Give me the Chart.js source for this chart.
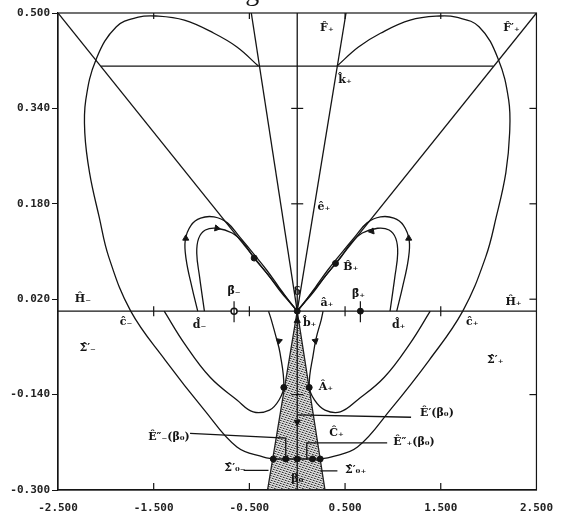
<!DOCTYPE html>
<html>
<head>
<meta charset="utf-8">
<script src="https://cdn.jsdelivr.net/npm/chart.js@4.4.0/dist/chart.umd.min.js"></script>
<style>
  html, body { margin: 0; padding: 0; background: #fff; }
  #wrap { width: 565px; height: 518px; }
</style>
</head>
<body>
<div id="wrap"><canvas id="phase" width="565" height="518"></canvas></div>
<script>
// --- tick values ---
const xTicks = [-2.5, -1.5, -0.5, 0.5, 1.5, 2.5];
const yTicks = [0.5, 0.34, 0.18, 0.02, -0.14, -0.3];

// --- straight lines ---
const axisH = [[-2.5, 0], [2.5, 0]];
const axisV = [[0, 0.5], [0, -0.3]];
const diagLeft = [[-2.5, 0.5], [0, 0]];
const diagRight = [[2.5, 0.5], [0, 0]];
const fanLeft = [[-0.48, 0.5], [0, 0]];
const fanRight = [[0.51, 0.5], [0, 0]];
const kLine = [[-2.05, 0.411], [2.05, 0.411]];

// --- big outer curves (from k-hat down to the wedge) ---
const outerLeft = [[-0.406, 0.411], [-0.63, 0.443], [-0.87, 0.466], [-1.18, 0.488], [-1.48, 0.495], [-1.66, 0.493],
  [-1.89, 0.477], [-2.10, 0.423], [-2.21, 0.354], [-2.22, 0.299], [-2.17, 0.232], [-2.07, 0.158], [-1.97, 0.091],
  [-1.74, 0.0], [-1.38, -0.082], [-0.97, -0.166], [-0.63, -0.228], [-0.35, -0.245], [-0.25, -0.248]];
const outerRight = [[0.416, 0.411], [0.64, 0.443], [0.87, 0.466], [1.18, 0.488], [1.49, 0.495], [1.66, 0.493],
  [1.90, 0.477], [2.10, 0.423], [2.21, 0.354], [2.22, 0.299], [2.18, 0.232], [2.08, 0.158], [1.97, 0.091],
  [1.73, 0.0], [1.38, -0.082], [0.97, -0.166], [0.63, -0.228], [0.35, -0.245], [0.24, -0.248]];

// --- E' curves through A-hat ---
const eLeft = [[-1.39, 0.0], [-1.18, -0.054], [-0.91, -0.111], [-0.63, -0.149], [-0.46, -0.169], [-0.29, -0.166],
  [-0.19, -0.149], [-0.14, -0.126], [-0.18, -0.070], [-0.22, -0.044], [-0.27, -0.015], [-0.30, 0.0]];
const eRight = [[1.39, 0.0], [1.18, -0.054], [0.91, -0.111], [0.63, -0.149], [0.45, -0.169], [0.29, -0.166],
  [0.18, -0.149], [0.125, -0.126], [0.17, -0.070], [0.20, -0.044], [0.25, -0.015], [0.27, 0.0]];

// --- small loops above the axis ---
const loopOuterLeft = [[-1.04, 0.0], [-1.10, 0.040], [-1.16, 0.086], [-1.17, 0.119], [-1.11, 0.144], [-1.01, 0.156],
  [-0.87, 0.158], [-0.73, 0.148], [-0.60, 0.124], [-0.46, 0.097], [-0.32, 0.069], [-0.19, 0.040], [-0.09, 0.018], [0, 0]];
const loopInnerLeft = [[-0.97, 0.0], [-1.02, 0.057], [-1.05, 0.097], [-1.03, 0.122], [-0.96, 0.136], [-0.84, 0.139],
  [-0.68, 0.131], [-0.56, 0.114], [-0.45, 0.089], [-0.30, 0.060], [-0.17, 0.032], [-0.07, 0.013], [0, 0]];
const loopOuterRight = [[1.04, 0.0], [1.10, 0.040], [1.16, 0.086], [1.17, 0.119], [1.11, 0.144], [1.01, 0.156],
  [0.87, 0.158], [0.73, 0.148], [0.60, 0.124], [0.46, 0.097], [0.32, 0.069], [0.19, 0.040], [0.09, 0.018], [0, 0]];
const loopInnerRight = [[0.97, 0.0], [1.02, 0.057], [1.05, 0.097], [1.03, 0.122], [0.96, 0.136], [0.84, 0.139],
  [0.68, 0.131], [0.56, 0.114], [0.45, 0.089], [0.30, 0.060], [0.17, 0.032], [0.07, 0.013], [0, 0]];

// --- leader lines and small segments near the wedge ---
const leaderE1 = [[0, -0.174], [1.19, -0.178]];
const leaderE2Left = [[-1.12, -0.205], [-0.12, -0.213], [-0.12, -0.248]];
const leaderE2Right = [[0.94, -0.221], [0.10, -0.221], [0.10, -0.248]];
const sigmaLeft = [[-0.56, -0.267], [-0.30, -0.267]];
const sigmaRight = [[0.24, -0.268], [0.42, -0.268]];
const dotRow = [[-0.25, -0.248], [0.24, -0.248]];

// --- wedge ---
const wedge = [[0, 0], [-0.31, -0.3], [0.29, -0.3], [0, 0]];

// --- marked points ---
const dotsFilled = [[0, 0], [0.66, 0], [-0.45, 0.089], [0.40, 0.080], [-0.14, -0.128], [0.125, -0.128],
  [-0.25, -0.248], [-0.12, -0.248], [0, -0.248], [0.16, -0.248], [0.24, -0.248]];
const dotsHollow = [[-0.66, 0]];
const betaTicks = [-0.66, 0.66];
const arrows = [[-1.165, 0.122], [-0.84, 0.139], [1.165, 0.122], [0.78, 0.134],
  [-0.19, -0.05], [0.19, -0.05], [0, -0.186], [0, -0.016]];
const arrowTurn = [0, 100, 0, 260, 190, 170, 180, 0];

// --- text labels [text, x, y] ---
const labels = [
  ['F\u0302\u208A', 0.31, 0.475], ['F\u0302\u2032\u208A', 2.24, 0.475], ['k\u0302\u208A', 0.50, 0.388],
  ['e\u0302\u208A', 0.28, 0.175], ['B\u0302\u208A', 0.56, 0.074], ['\u03B4', 0.0, 0.032],
  ['\u03B2\u0302\u208B', -0.66, 0.034], ['\u03B2\u0302\u208A', 0.64, 0.028],
  ['H\u0302\u208B', -2.24, 0.020], ['H\u0302\u208A', 2.26, 0.015],
  ['c\u0302\u208B', -1.79, -0.018], ['d\u0302\u208B', -1.02, -0.024], ['a\u0302\u208A', 0.31, 0.014],
  ['b\u0302\u208A', 0.13, -0.020], ['d\u0302\u208A', 1.06, -0.024], ['c\u0302\u208A', 1.83, -0.018],
  ['\u03A3\u0302\u2032\u208B', -2.19, -0.062], ['\u03A3\u0302\u2032\u208A', 2.07, -0.082],
  ['A\u0302\u208A', 0.30, -0.128], ['E\u0302\u2032(\u03B2\u2080)', 1.46, -0.171],
  ['C\u0302\u208A', 0.41, -0.205], ['E\u0302\u2033\u208A(\u03B2\u2080)', 1.22, -0.220],
  ['E\u0302\u2033\u208B(\u03B2\u2080)', -1.34, -0.211],
  ['\u03A3\u0302\u2032\u2080\u208B', -0.65, -0.264], ['\u03A3\u0302\u2032\u2080\u208A', 0.61, -0.267],
  ['\u03B2\u2080', 0.0, -0.281]
];

const INK = '#141414';
const toPts = arr => arr.map(([x, y]) => ({ x, y }));

function line(data, extra) {
  return Object.assign({
    data: toPts(data), showLine: true, pointRadius: 0, borderColor: INK,
    borderWidth: 1.3, tension: 0, fill: false, order: 0
  }, extra || {});
}

// stipple for the shaded wedge
function stipple() {
  const c = document.createElement('canvas');
  c.width = 7; c.height = 7;
  const g = c.getContext('2d');
  g.fillStyle = '#c4c4c4';
  g.fillRect(0, 0, 7, 7);
  for (let i = 0; i < 7; i++) {
    for (let j = 0; j < 7; j++) {
      const k = (i * 3 + j * 5) % 7;
      if (k === 0) { g.fillStyle = '#3c3c3c'; g.fillRect(i, j, 1, 1); }
      else if (k === 3) { g.fillStyle = '#777'; g.fillRect(i, j, 1, 1); }
      else if (k === 5) { g.fillStyle = '#efefef'; g.fillRect(i, j, 1, 1); }
    }
  }
  return g.createPattern(c, 'repeat');
}

const extras = {
  id: 'extras',
  afterDatasetsDraw(chart) {
    const { ctx, chartArea: a, scales: { x, y } } = chart;
    ctx.save();
    ctx.strokeStyle = INK;
    ctx.lineWidth = 1.2;
    ctx.strokeRect(a.left, a.top, a.right - a.left, a.bottom - a.top);
    const seg = (x1, y1, x2, y2) => { ctx.beginPath(); ctx.moveTo(x1, y1); ctx.lineTo(x2, y2); ctx.stroke(); };
    const x0 = x.getPixelForValue(0), y0 = y.getPixelForValue(0);

    xTicks.slice(1, -1).forEach(v => {
      const px = x.getPixelForValue(v);
      seg(px, a.bottom, px, a.bottom - 7);
      seg(px, a.top, px, a.top + 6);
      seg(px, y0 - 5, px, y0 + 5);
    });
    yTicks.slice(1, -1).forEach(v => {
      const py = y.getPixelForValue(v);
      seg(a.right, py, a.right - 7, py);
      if (Math.abs(v) > 0.05) seg(x0 - 6, py, x0 + 6, py);
    });
    betaTicks.forEach(v => {
      const px = x.getPixelForValue(v);
      seg(px, y0 - 10, px, y0 + 11);
    });

    ctx.fillStyle = INK;
    ctx.font = 'bold 11px "DejaVu Serif"';
    ctx.textAlign = 'center';
    ctx.textBaseline = 'middle';
    labels.forEach(([t, vx, vy]) => ctx.fillText(t, x.getPixelForValue(vx), y.getPixelForValue(vy)));

    // clipped caption at the very top
    ctx.font = '28px "Liberation Serif"';
    ctx.textAlign = 'left';
    ctx.textBaseline = 'alphabetic';
    ctx.fillText('Figure', 222, 0);
    ctx.restore();
  }
};

const canvas = document.getElementById('phase');

new Chart(canvas.getContext('2d'), {
  type: 'scatter',
  data: {
    datasets: [
      { data: toPts(dotsFilled), pointRadius: 3, pointBackgroundColor: INK, pointBorderColor: INK, showLine: false },
      { data: toPts(dotsHollow), pointRadius: 3, pointBackgroundColor: '#fff', pointBorderColor: INK, pointBorderWidth: 1.5, showLine: false },
      { data: toPts(arrows), pointStyle: 'triangle', pointRadius: 3.5, pointRotation: arrowTurn,
        pointBackgroundColor: INK, pointBorderColor: INK, showLine: false },
      line(axisH), line(axisV),
      line(diagLeft), line(diagRight),
      line(fanLeft), line(fanRight),
      line(kLine),
      line(outerLeft, { tension: 0.4 }), line(outerRight, { tension: 0.4 }),
      line(eLeft, { tension: 0.4 }), line(eRight, { tension: 0.4 }),
      line(loopOuterLeft, { tension: 0.4 }), line(loopInnerLeft, { tension: 0.4 }),
      line(loopOuterRight, { tension: 0.4 }), line(loopInnerRight, { tension: 0.4 }),
      line(leaderE1), line(leaderE2Left), line(leaderE2Right),
      line(sigmaLeft), line(sigmaRight), line(dotRow),
      line(wedge, { fill: 'shape', backgroundColor: stipple(), borderColor: '#222', order: 10 })
    ]
  },
  options: {
    responsive: false,
    animation: false,
    events: [],
    layout: { padding: { top: 13, right: 20, left: 0, bottom: 0 } },
    plugins: { legend: { display: false }, tooltip: { enabled: false } },
    scales: {
      x: {
        type: 'linear', min: -2.5, max: 2.5,
        afterBuildTicks: s => { s.ticks = xTicks.map(v => ({ value: v })); },
        afterFit: s => { s.height = 28; },
        grid: { display: true, drawOnChartArea: false, drawTicks: false, color: INK },
        border: { display: true, color: INK, width: 1.2 },
        ticks: {
          padding: 12, maxRotation: 0, autoSkip: false, color: '#222',
          font: { family: '"DejaVu Sans Mono", monospace', size: 11, weight: 'bold' },
          callback: v => v.toFixed(3)
        }
      },
      y: {
        type: 'linear', min: -0.3, max: 0.5,
        afterBuildTicks: s => { s.ticks = yTicks.map(v => ({ value: v })); },
        afterFit: s => { s.width = 58; },
        grid: { display: true, drawOnChartArea: false, drawTicks: true, tickLength: 6, color: INK },
        border: { display: true, color: INK, width: 1.2 },
        ticks: {
          padding: 2, autoSkip: false, color: '#222',
          font: { family: '"DejaVu Sans Mono", monospace', size: 11, weight: 'bold' },
          callback: v => v.toFixed(3)
        }
      }
    }
  },
  plugins: [extras]
});
</script>
</body>
</html>
